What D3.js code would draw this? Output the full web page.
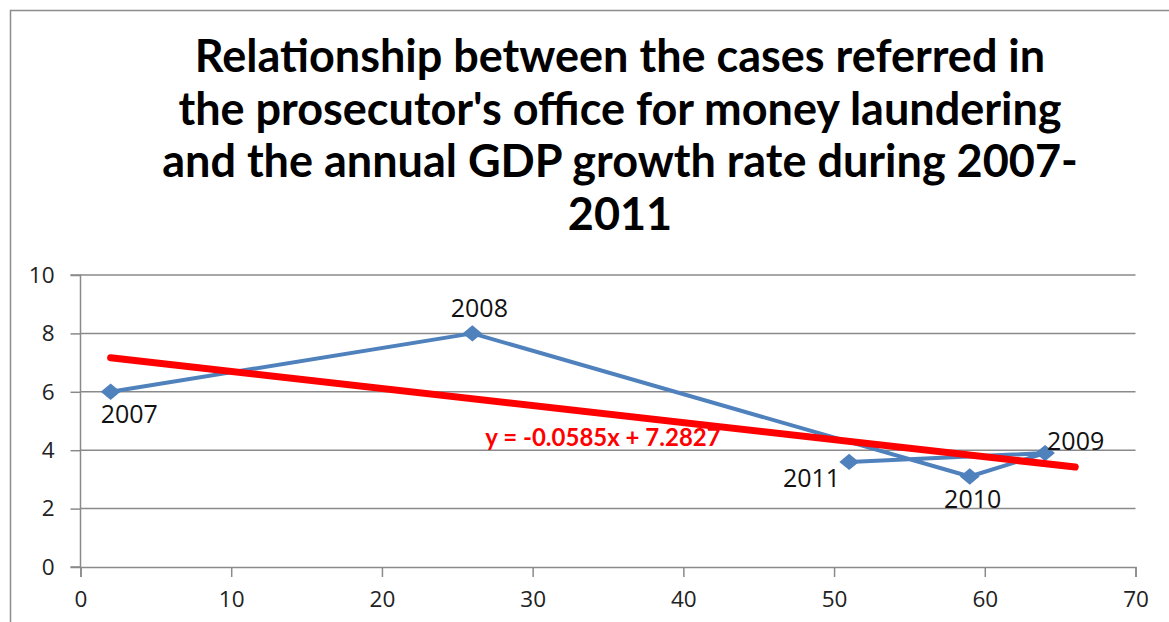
<!DOCTYPE html>
<html><head><meta charset="utf-8">
<script src="https://cdn.jsdelivr.net/npm/d3@7"></script>
<style>body{margin:0;background:#fff}svg{display:block}</style>
</head><body>
<script>
const titleLines = ["Relationship between the cases referred in","the prosecutor's office for money laundering","and the annual GDP growth rate during 2007-","2011"];
const years = ["2007","2008","2010","2009","2011"];
const cases = [2, 26, 59, 64, 51];
const gdp = [6, 8, 3.1, 3.9, 3.6];
const xTicks = [0,10,20,30,40,50,60,70];
const yTicks = [0,2,4,6,8,10];
const slope = -0.0585, intercept = 7.2827;
const trendRange = [2, 66];
const eqLabel = "y = -0.0585x + 7.2827";
// label placement styles (dx, dy, anchor)
const labelPos = {"2007":[-10,31,"start"],"2008":[7,-16,"middle"],"2010":[3,32,"middle"],"2009":[2,-3,"start"],"2011":[-9,25,"end"]};

const W=1169,H=622;
const svg=d3.select("body").append("svg").attr("width",W).attr("height",H);
svg.append("rect").attr("x",10.5).attr("y",10.5).attr("width",W+20).attr("height",H+20).attr("fill","#fff").attr("stroke","#8c8c8c").attr("stroke-width",1.5);

const x=d3.scaleLinear().domain([0,70]).range([80.5,1135.5]);
const y=d3.scaleLinear().domain([0,10]).range([567,275]);

svg.append("g").selectAll("text").data(titleLines).join("text")
 .attr("x",620).attr("y",(d,i)=>72+i*52.7).attr("text-anchor","middle")
 .attr("font-family","Lato, 'Open Sans', sans-serif").attr("font-weight","bold").attr("font-size",45).attr("fill","#000").text(d=>d);

// gridlines
svg.append("g").selectAll("line").data(yTicks.filter(d=>d>0)).join("line")
 .attr("x1",x(0)).attr("x2",x(70)).attr("y1",d=>y(d)).attr("y2",d=>y(d)).attr("stroke","#8a8a8a").attr("stroke-width",1.5);

const ya=svg.append("g").attr("transform",`translate(${x(0)},0)`).call(d3.axisLeft(y).tickValues(yTicks).tickSize(10).tickPadding(16).tickFormat(d3.format("d")));
const xa=svg.append("g").attr("transform",`translate(0,${y(0)})`).call(d3.axisBottom(x).tickValues(xTicks).tickSize(10).tickPadding(14).tickFormat(d3.format("d")));
[ya,xa].forEach(a=>{a.select(".domain").attr("stroke","#8a8a8a").attr("stroke-width",1.5);
 a.selectAll(".tick line").attr("stroke","#8a8a8a").attr("stroke-width",1.5);
 a.selectAll("text").attr("font-family","'Open Sans', sans-serif").attr("font-size",22.5).attr("fill","#222");});
ya.select(".domain").attr("d",`M-10,${y(10)}H0V${y(0)}H-10`);

const pts=years.map((yr,i)=>({yr,x:cases[i],y:gdp[i]}));
svg.append("path").datum(pts).attr("fill","none").attr("stroke","#4F81BD").attr("stroke-width",4).attr("stroke-linejoin","round")
 .attr("d",d3.line().x(d=>x(d.x)).y(d=>y(d.y)));
svg.append("g").selectAll("path").data(pts).join("path")
 .attr("transform",d=>`translate(${x(d.x)},${y(d.y)}) scale(1.2,1) rotate(45)`).attr("d",d3.symbol(d3.symbolSquare,135)).attr("fill","#4F81BD");

svg.append("line").attr("x1",x(trendRange[0])).attr("y1",y(slope*trendRange[0]+intercept))
 .attr("x2",x(trendRange[1])).attr("y2",y(slope*trendRange[1]+intercept)).attr("stroke","#FF0000").attr("stroke-width",7).attr("stroke-linecap","round");

svg.append("g").selectAll("text").data(pts).join("text")
 .attr("x",d=>x(d.x)+labelPos[d.yr][0]).attr("y",d=>y(d.y)+labelPos[d.yr][1]).attr("text-anchor",d=>labelPos[d.yr][2])
 .attr("font-family","'Open Sans', sans-serif").attr("font-size",25).attr("fill","#111").text(d=>d.yr);

svg.append("text").attr("x",603).attr("y",446).attr("text-anchor","middle").attr("font-family","Lato, 'Open Sans', sans-serif")
 .attr("font-weight","bold").attr("font-size",24).attr("fill","#FF0000").text(eqLabel);
</script>
</body></html>
